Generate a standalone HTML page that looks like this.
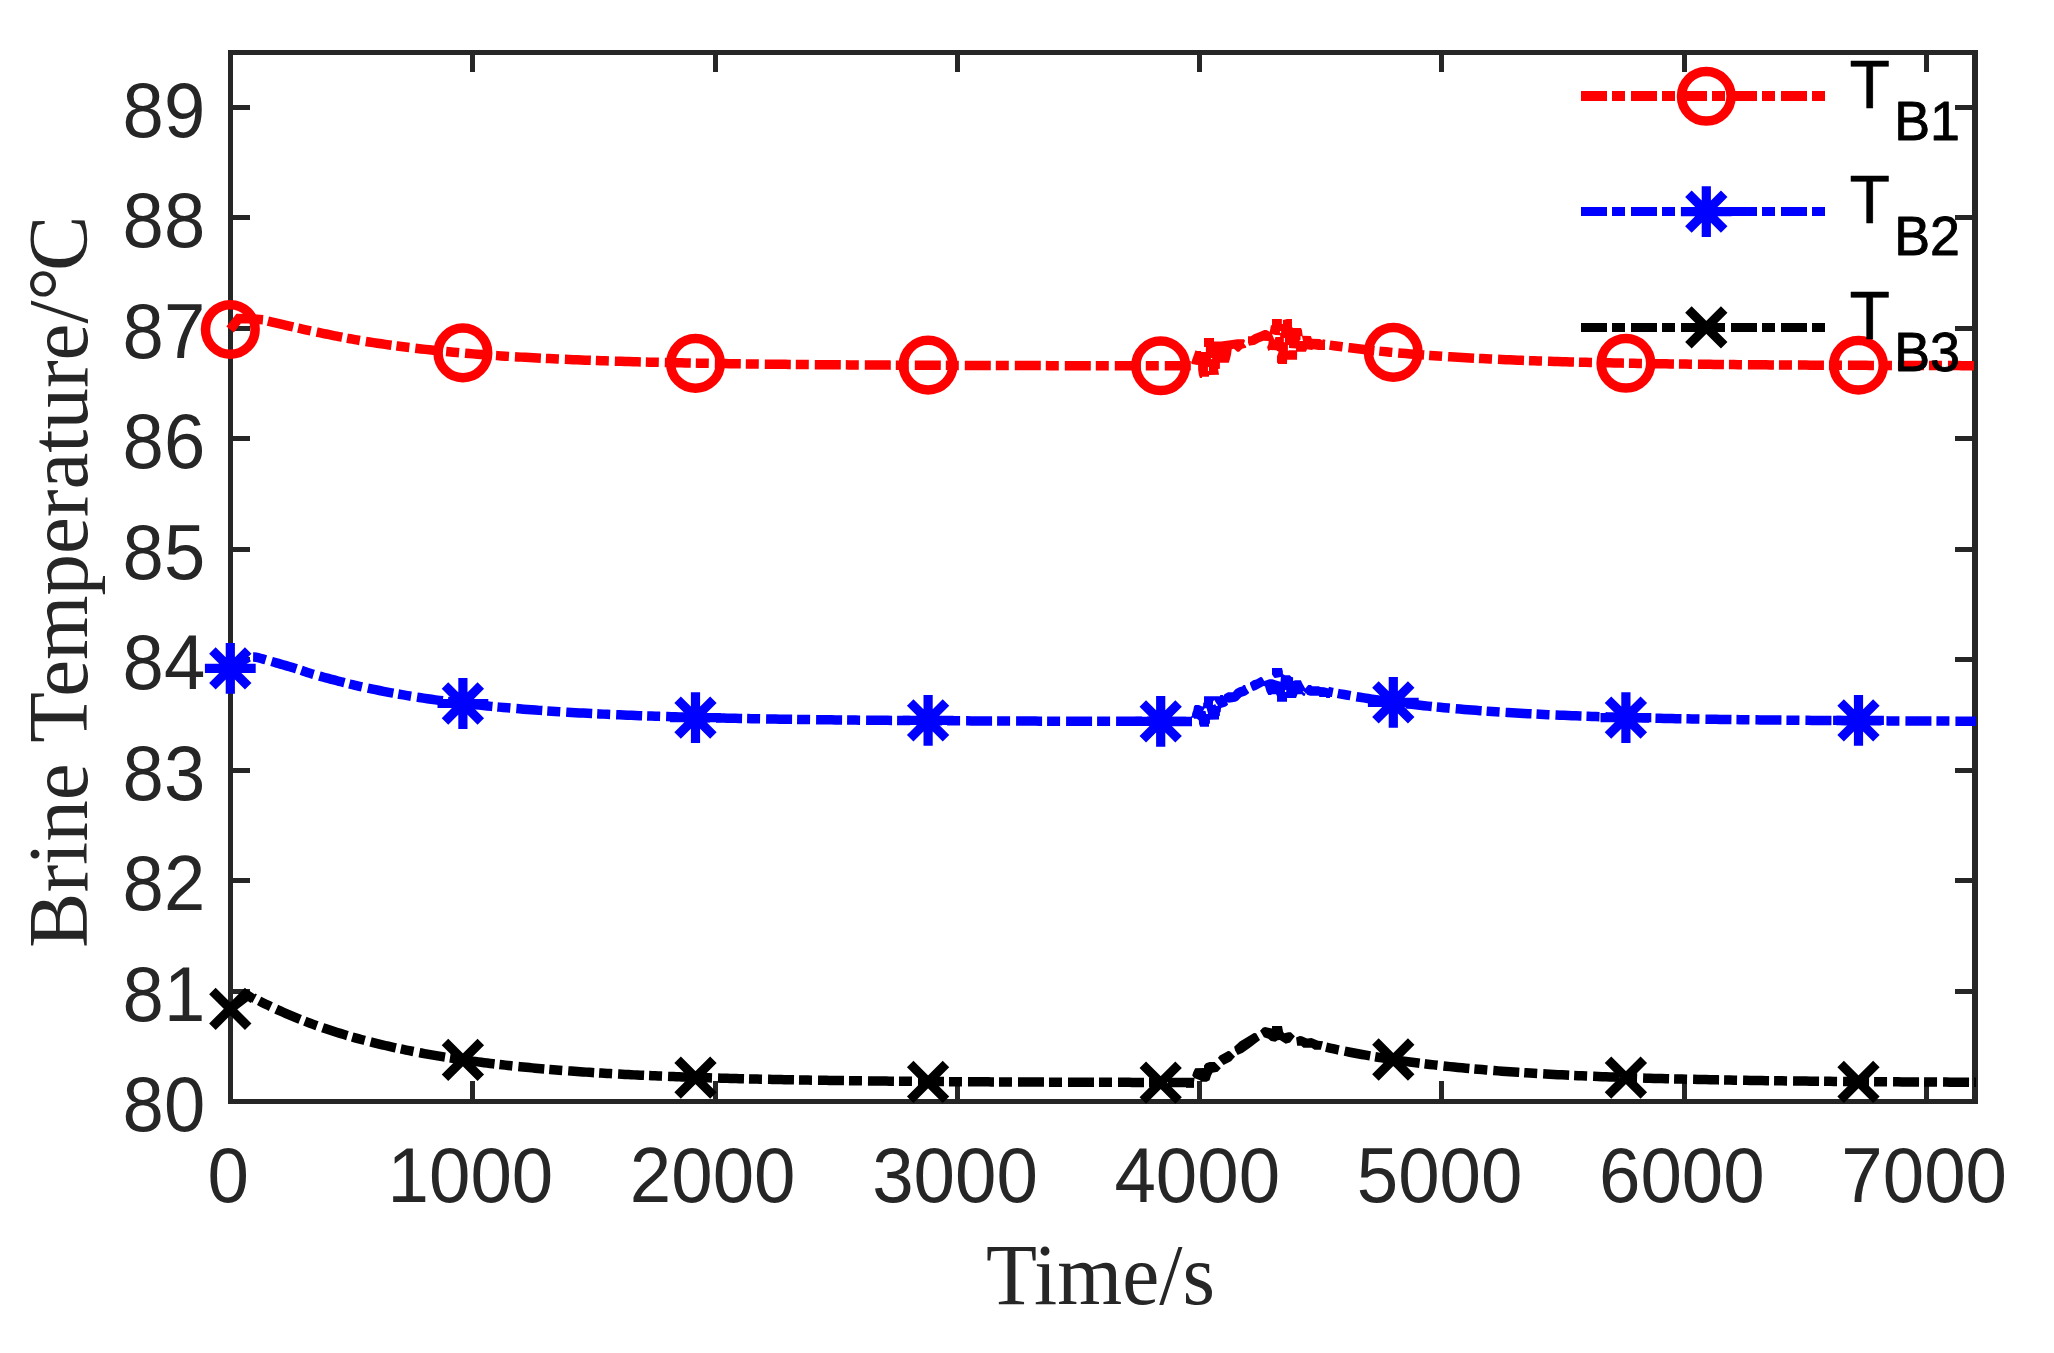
<!DOCTYPE html>
<html lang="en"><head><meta charset="utf-8"><title>Brine Temperature</title>
<style>html,body{margin:0;padding:0;background:#fff}svg{display:block}</style></head>
<body>
<svg width="2054" height="1353" viewBox="0 0 2054 1353">
<rect width="2054" height="1353" fill="#fff"/>
<g stroke="#262626" stroke-width="5" fill="none" shape-rendering="crispEdges">
<path d="M230.5 1101.5V52.5H1975.2V1101.5H230.5Z"/>
<path d="M1975 50V1104" stroke-width="6"/>
<path d="M230.5 1101.5v-20.3M230.5 52.5v19.3M472.79 1101.5v-20.3M472.79 52.5v19.3M715.08 1101.5v-20.3M715.08 52.5v19.3M957.37 1101.5v-20.3M957.37 52.5v19.3M1199.66 1101.5v-20.3M1199.66 52.5v19.3M1441.95 1101.5v-20.3M1441.95 52.5v19.3M1684.24 1101.5v-20.3M1684.24 52.5v19.3M1926.53 1101.5v-20.3M1926.53 52.5v19.3M230.5 1101.5h19.5M1975.2 1101.5h-20.2M230.5 991.06h19.5M1975.2 991.06h-20.2M230.5 880.62h19.5M1975.2 880.62h-20.2M230.5 770.18h19.5M1975.2 770.18h-20.2M230.5 659.74h19.5M1975.2 659.74h-20.2M230.5 549.3h19.5M1975.2 549.3h-20.2M230.5 438.86h19.5M1975.2 438.86h-20.2M230.5 328.42h19.5M1975.2 328.42h-20.2M230.5 217.98h19.5M1975.2 217.98h-20.2M230.5 107.54h19.5M1975.2 107.54h-20.2"/>
</g>
<g font-family="'Liberation Sans', Arial, Helvetica, sans-serif" fill="#262626">
<g text-anchor="end">
<text transform="translate(205.2 1131) scale(0.9900 1.0360)" font-size="75">80</text>
<text transform="translate(205.2 1020.56) scale(0.9900 1.0360)" font-size="75">81</text>
<text transform="translate(205.2 910.12) scale(0.9900 1.0360)" font-size="75">82</text>
<text transform="translate(205.2 799.68) scale(0.9900 1.0360)" font-size="75">83</text>
<text transform="translate(205.2 689.24) scale(0.9900 1.0360)" font-size="75">84</text>
<text transform="translate(205.2 578.8) scale(0.9900 1.0360)" font-size="75">85</text>
<text transform="translate(205.2 468.36) scale(0.9900 1.0360)" font-size="75">86</text>
<text transform="translate(205.2 357.92) scale(0.9900 1.0360)" font-size="75">87</text>
<text transform="translate(205.2 247.48) scale(0.9900 1.0360)" font-size="75">88</text>
<text transform="translate(205.2 137.04) scale(0.9900 1.0360)" font-size="75">89</text>
</g>
<g text-anchor="middle">
<text transform="translate(228.1 1202) scale(0.9930 1.0360)" font-size="75">0</text>
<text transform="translate(470.39 1202) scale(0.9930 1.0360)" font-size="75">1000</text>
<text transform="translate(712.68 1202) scale(0.9930 1.0360)" font-size="75">2000</text>
<text transform="translate(954.97 1202) scale(0.9930 1.0360)" font-size="75">3000</text>
<text transform="translate(1197.26 1202) scale(0.9930 1.0360)" font-size="75">4000</text>
<text transform="translate(1439.55 1202) scale(0.9930 1.0360)" font-size="75">5000</text>
<text transform="translate(1681.84 1202) scale(0.9930 1.0360)" font-size="75">6000</text>
<text transform="translate(1924.13 1202) scale(0.9930 1.0360)" font-size="75">7000</text>
</g>
</g>
<g font-family="'Liberation Serif', 'Times New Roman', Times, serif" fill="#262626">
<text transform="translate(1100.5 1304) scale(1.0060 1.0350)" font-size="83" text-anchor="middle">Time/s</text>
<g style="font-kerning:none">
<text transform="translate(87 947.9) rotate(-90) scale(1 1.012)" font-size="83" dx="0 0 0 0 0 0 0 -4.8 0 0 0 0 0 0 0 0 0 0 0 -3.7">Brine Temperature/°C</text>
</g>
</g>
<clipPath id="c"><rect x="190.5" y="0" width="1785.5" height="1353"/></clipPath>
<g clip-path="url(#c)" stroke-linecap="butt">
<path d="M230.1 329.5 L238.7 318.5 L251 318.7 L263 319.7" fill="none" stroke="#ff0000" stroke-width="9.5" stroke-linejoin="miter"/>
<path d="M267.55 321 L269.16 321.39 L271.09 321.84 L273.24 322.34 L275.51 322.86 L277.8 323.39 L280 323.9 L282.08 324.39 L284.1 324.86 L286.15 325.35 L288.28 325.85 L290.57 326.38 L293.1 326.95 L294.88 327.35 L296.69 327.76 L298.55 328.18 L300.48 328.61 L302.5 329.05 L304.64 329.52 L306.92 330.02 L309.37 330.54 L312 331.1 L313.71 331.46 L315.56 331.85 L317.51 332.25 L319.56 332.68 L321.67 333.12 L323.84 333.57 L326.04 334.02 L328.25 334.47 L330.45 334.92 L332.61 335.36 L334.73 335.79 L336.78 336.21 L338.74 336.6 L340.58 336.96 L342.3 337.3 L345.01 337.82 L347.65 338.31 L350.17 338.77 L352.56 339.19 L354.78 339.58 L356.79 339.92 L358.57 340.23 L360.08 340.49 L361.3 340.7 L365.3 341.36 L369.3 341.99 L373.3 342.62 L377.3 343.22 L381.3 343.81 L385.3 344.39 L389.3 344.95 L393.3 345.49 L397.3 346.02 L401.3 346.54 L405.3 347.05 L409.3 347.54 L413.3 348.01 L417.3 348.48 L421.3 348.93 L425.3 349.37 L429.3 349.8 L433.3 350.22 L437.3 350.63 L441.3 351.03 L445.3 351.42 L449.3 351.79 L453.3 352.16 L457.3 352.52 L461.3 352.87 L465.3 353.21 L469.3 353.54 L473.3 353.86 L477.3 354.17 L481.3 354.48 L485.3 354.77 L489.3 355.06 L493.3 355.35 L497.3 355.62 L501.3 355.89 L505.3 356.15 L509.3 356.4 L513.3 356.65 L517.3 356.89 L521.3 357.12 L525.3 357.35 L529.3 357.58 L533.3 357.79 L537.3 358 L541.3 358.21 L545.3 358.41 L549.3 358.6 L553.3 358.79 L557.3 358.98 L561.3 359.16 L565.3 359.33 L569.3 359.51 L573.3 359.67 L577.3 359.83 L581.3 359.99 L585.3 360.15 L589.3 360.3 L593.3 360.44 L597.3 360.58 L601.3 360.72 L605.3 360.86 L609.3 360.99 L613.3 361.12 L617.3 361.24 L621.3 361.36 L625.3 361.48 L629.3 361.59 L633.3 361.71 L637.3 361.82 L641.3 361.92 L645.3 362.03 L649.3 362.13 L653.3 362.22 L657.3 362.32 L661.3 362.41 L665.3 362.5 L669.3 362.59 L673.3 362.68 L677.3 362.76 L681.3 362.84 L685.3 362.92 L689.3 363 L693.3 363.08 L697.3 363.15 L701.3 363.22 L705.3 363.29 L709.3 363.36 L713.3 363.43 L717.3 363.49 L721.3 363.55 L725.3 363.61 L729.3 363.67 L733.3 363.73 L737.3 363.79 L741.3 363.84 L745.3 363.9 L749.3 363.95 L753.3 364 L757.3 364.05 L761.3 364.1 L765.3 364.14 L769.3 364.19 L773.3 364.23 L777.3 364.28 L781.3 364.32 L785.3 364.36 L789.3 364.4 L793.3 364.44 L797.3 364.48 L801.3 364.51 L805.3 364.55 L809.3 364.59 L813.3 364.62 L817.3 364.65 L821.3 364.69 L825.3 364.72 L829.3 364.75 L833.3 364.78 L837.3 364.81 L841.3 364.84 L845.3 364.86 L849.3 364.89 L853.3 364.92 L857.3 364.94 L861.3 364.97 L865.3 364.99 L869.3 365.02 L873.3 365.04 L877.3 365.06 L881.3 365.08 L885.3 365.1 L889.3 365.12 L893.3 365.14 L897.3 365.16 L901.3 365.18 L905.3 365.2 L909.3 365.22 L913.3 365.24 L917.3 365.26 L921.3 365.27 L925.3 365.29 L929.3 365.3 L933.3 365.32 L937.3 365.33 L941.3 365.35 L945.3 365.36 L949.3 365.38 L953.3 365.39 L957.3 365.4 L961.3 365.42 L965.3 365.43 L969.3 365.44 L973.3 365.45 L977.3 365.47 L981.3 365.48 L985.3 365.49 L989.3 365.5 L993.3 365.51 L997.3 365.52 L1001.3 365.53 L1005.3 365.54 L1009.3 365.55 L1013.3 365.56 L1017.3 365.57 L1021.3 365.58 L1025.3 365.58 L1029.3 365.59 L1033.3 365.6 L1037.3 365.61 L1041.3 365.62 L1045.3 365.62 L1049.3 365.63 L1053.3 365.64 L1057.3 365.64 L1061.3 365.65 L1065.3 365.66 L1069.3 365.66 L1073.3 365.67 L1077.3 365.68 L1081.3 365.68 L1085.3 365.69 L1089.3 365.69 L1093.3 365.7 L1097.3 365.7 L1101.3 365.71 L1105.3 365.71 L1109.3 365.72 L1113.3 365.72 L1117.3 365.73 L1121.3 365.73 L1125.3 365.74 L1129.3 365.74 L1133.3 365.74 L1137.3 365.75 L1141.3 365.75 L1145.3 365.76 L1149.3 365.76 L1153.3 365.76 L1157.3 365.77 L1161.3 365.77 L1165.3 365.77 L1169.3 365.78 L1173.3 365.78 L1177.3 365.78 L1181.3 365.79 L1185.3 365.79 L1189.3 365.79 L1192 365.79" fill="none" stroke="#ff0000" stroke-width="9.5" stroke-dasharray="26 5 13 6" stroke-dashoffset="49.65"/>
<path d="M1322 344 L1326 344.59 L1330 345.17 L1334 345.73 L1338 346.28 L1342 346.81 L1346 347.32 L1350 347.83 L1354 348.31 L1358 348.79 L1362 349.25 L1366 349.7 L1370 350.14 L1374 350.57 L1378 350.98 L1382 351.39 L1386 351.78 L1390 352.16 L1394 352.53 L1398 352.89 L1402 353.25 L1406 353.59 L1410 353.92 L1414 354.24 L1418 354.56 L1422 354.87 L1426 355.17 L1430 355.46 L1434 355.74 L1438 356.01 L1442 356.28 L1446 356.54 L1450 356.79 L1454 357.04 L1458 357.28 L1462 357.51 L1466 357.74 L1470 357.96 L1474 358.18 L1478 358.38 L1482 358.59 L1486 358.79 L1490 358.98 L1494 359.17 L1498 359.35 L1502 359.52 L1506 359.7 L1510 359.87 L1514 360.03 L1518 360.19 L1522 360.34 L1526 360.49 L1530 360.64 L1534 360.78 L1538 360.92 L1542 361.05 L1546 361.18 L1550 361.31 L1554 361.44 L1558 361.56 L1562 361.67 L1566 361.79 L1570 361.9 L1574 362.01 L1578 362.11 L1582 362.22 L1586 362.32 L1590 362.41 L1594 362.51 L1598 362.6 L1602 362.69 L1606 362.78 L1610 362.86 L1614 362.94 L1618 363.02 L1622 363.1 L1626 363.18 L1630 363.25 L1634 363.32 L1638 363.39 L1642 363.46 L1646 363.52 L1650 363.59 L1654 363.65 L1658 363.71 L1662 363.77 L1666 363.83 L1670 363.89 L1674 363.94 L1678 363.99 L1682 364.04 L1686 364.09 L1690 364.14 L1694 364.19 L1698 364.24 L1702 364.28 L1706 364.33 L1710 364.37 L1714 364.41 L1718 364.45 L1722 364.49 L1726 364.53 L1730 364.56 L1734 364.6 L1738 364.64 L1742 364.67 L1746 364.7 L1750 364.74 L1754 364.77 L1758 364.8 L1762 364.83 L1766 364.86 L1770 364.88 L1774 364.91 L1778 364.94 L1782 364.97 L1786 364.99 L1790 365.01 L1794 365.04 L1798 365.06 L1802 365.08 L1806 365.11 L1810 365.13 L1814 365.15 L1818 365.17 L1822 365.19 L1826 365.21 L1830 365.23 L1834 365.25 L1838 365.26 L1842 365.28 L1846 365.3 L1850 365.31 L1854 365.33 L1858 365.34 L1862 365.36 L1866 365.37 L1870 365.39 L1874 365.4 L1878 365.42 L1882 365.43 L1886 365.44 L1890 365.45 L1894 365.47 L1898 365.48 L1902 365.49 L1906 365.5 L1910 365.51 L1914 365.52 L1918 365.53 L1922 365.54 L1926 365.55 L1930 365.56 L1934 365.57 L1938 365.58 L1942 365.59 L1946 365.6 L1950 365.6 L1954 365.61 L1958 365.62 L1962 365.63 L1966 365.64 L1970 365.64 L1974 365.65 L1976 365.65" fill="none" stroke="#ff0000" stroke-width="9.5" stroke-dasharray="26 5 13 6" stroke-dashoffset="23.23"/>
<polygon points="1191.09,362.82 1195.52,350.26 1197,351 1201.06,351 1201.06,352.11 1205.87,352.11 1205.87,346.93 1204.02,346.93 1204.02,338.06 1214,338.06 1214,341.39 1221.02,341.39 1230.26,340.28 1237.28,339.17 1243.93,339.17 1245.04,340.65 1243.93,343.61 1246.15,346.56 1246.15,347.67 1242.08,348.78 1239.13,351.74 1237.28,351.74 1233.95,348.78 1231.74,349.15 1231,354.69 1229.89,359.13 1228.78,362.82 1219.91,362.82 1219.91,368.74 1218.06,369.11 1219.02,374.65 1209.19,375.02 1208.82,376.87 1202.17,376.87 1201.8,377.97 1199.96,377.97 1198.85,374.65 1198.11,369.48 1198.11,365.04 1195.89,364.67 1191.83,363.93" fill="#ff0000"/>
<polygon points="1248,336.22 1250.95,336.22 1253.91,334.37 1259.08,332.15 1264.26,329.93 1266.47,329.93 1269.8,331.78 1270.91,325.13 1272.02,325.13 1272.02,319.07 1281.85,319.07 1281.85,324.02 1282.96,324.02 1282.96,320.1 1287.17,319.07 1291.97,319.07 1291.97,326.98 1293.08,327.94 1300.99,327.94 1301.95,329.93 1302.69,335.85 1310.82,335.99 1311.93,338.8 1320.06,338.95 1321.91,340.28 1325.01,341.02 1325.01,349.89 1318.21,349.89 1313.78,349.15 1311.56,349.89 1307.12,349.15 1305.87,351.74 1297.15,351.74 1297,359.87 1287.17,359.87 1286.95,363.93 1278.3,363.93 1276.97,362.45 1276.97,356.17 1278.67,351.74 1276.08,350.26 1270.17,349.89 1268.32,351 1267.07,347.3 1268.32,344.35 1268.69,341.02 1263.52,340.65 1259.45,342.13 1255.02,344.72 1249.11,345.82 1248,342.87" fill="#ff0000"/>
<polygon points="1207.94,366.89 1208.97,366.89 1208.97,370.95 1207.94,370.95" fill="#fff"/>
<polygon points="1210.89,358.02 1212.15,358.02 1212.15,359.13 1210.89,359.13" fill="#fff"/>
<polygon points="1272.02,334 1275.34,334.89 1280.15,335.33 1280.15,336.95 1275.49,336.95 1274.46,339.91 1273.27,336.95" fill="#fff"/>
<polygon points="1283.84,338.06 1284.95,338.06 1284.95,342.13 1283.84,342.13" fill="#fff"/>
<polygon points="1287.91,345.08 1289.02,345.08 1289.02,348.04 1296.04,348.41 1296.04,350.26 1289.02,350.26 1287.91,351" fill="#fff"/>
<polygon points="1300.47,336.36 1301.95,336.22 1303.06,341.02 1299.14,341.02 1300.62,339.54" fill="#fff"/>
<polygon points="1279.93,331.04 1281.11,331.04 1281.11,332.89 1279.93,332.89" fill="#fff"/>
<circle cx="230.3" cy="329.45" r="24.8" fill="none" stroke="#ff0000" stroke-width="9.5"/>
<circle cx="462.9" cy="352.9" r="24.8" fill="none" stroke="#ff0000" stroke-width="9.5"/>
<circle cx="695.5" cy="363.4" r="24.8" fill="none" stroke="#ff0000" stroke-width="9.5"/>
<circle cx="928.1" cy="365.1" r="24.8" fill="none" stroke="#ff0000" stroke-width="9.5"/>
<circle cx="1160.7" cy="365.8" r="24.8" fill="none" stroke="#ff0000" stroke-width="9.5"/>
<circle cx="1393.3" cy="352.4" r="24.8" fill="none" stroke="#ff0000" stroke-width="9.5"/>
<circle cx="1625.9" cy="363.3" r="24.8" fill="none" stroke="#ff0000" stroke-width="9.5"/>
<circle cx="1858.5" cy="365.2" r="24.8" fill="none" stroke="#ff0000" stroke-width="9.5"/>
<path d="M230.15 668.4 L248.5 657.3" fill="none" stroke="#0000ff" stroke-width="9.5" stroke-linejoin="miter"/>
<path d="M251.98 657.08 L253.96 657.11 L256 657.3 L258.06 657.69 L260.17 658.25 L262.5 658.9 L264.1 659.33 L265.6 659.74 L267.68 660.34 L271 661.3 L272.52 661.74 L274.28 662.25 L276.23 662.81 L278.34 663.42 L280.56 664.07 L282.86 664.73 L285.18 665.41 L287.5 666.09 L289.78 666.76 L291.96 667.41 L294.01 668.03 L295.9 668.6 L298.14 669.3 L300.13 669.96 L301.96 670.59 L303.7 671.2 L305.44 671.8 L307.25 672.42 L309.21 673.07 L311.4 673.76 L313.9 674.5 L315.6 674.99 L317.46 675.51 L319.46 676.06 L321.57 676.64 L323.76 677.23 L326.01 677.84 L328.28 678.44 L330.55 679.04 L332.8 679.64 L334.98 680.21 L337.08 680.76 L339.07 681.28 L340.93 681.77 L342.61 682.21 L344.1 682.6 L347.75 683.54 L350.52 684.24 L352.6 684.74 L354.17 685.1 L355.4 685.4 L359.4 686.31 L363.4 687.2 L367.4 688.06 L371.4 688.9 L375.4 689.72 L379.4 690.52 L383.4 691.3 L387.4 692.07 L391.4 692.81 L395.4 693.53 L399.4 694.24 L403.4 694.92 L407.4 695.59 L411.4 696.25 L415.4 696.88 L419.4 697.5 L423.4 698.11 L427.4 698.7 L431.4 699.27 L435.4 699.84 L439.4 700.38 L443.4 700.91 L447.4 701.43 L451.4 701.94 L455.4 702.43 L459.4 702.92 L463.4 703.39 L467.4 703.84 L471.4 704.29 L475.4 704.72 L479.4 705.15 L483.4 705.56 L487.4 705.96 L491.4 706.36 L495.4 706.74 L499.4 707.11 L503.4 707.48 L507.4 707.83 L511.4 708.18 L515.4 708.51 L519.4 708.84 L523.4 709.16 L527.4 709.48 L531.4 709.78 L535.4 710.08 L539.4 710.37 L543.4 710.65 L547.4 710.92 L551.4 711.19 L555.4 711.45 L559.4 711.71 L563.4 711.96 L567.4 712.2 L571.4 712.43 L575.4 712.66 L579.4 712.89 L583.4 713.11 L587.4 713.32 L591.4 713.53 L595.4 713.73 L599.4 713.93 L603.4 714.12 L607.4 714.31 L611.4 714.49 L615.4 714.67 L619.4 714.85 L623.4 715.02 L627.4 715.18 L631.4 715.34 L635.4 715.5 L639.4 715.65 L643.4 715.8 L647.4 715.95 L651.4 716.09 L655.4 716.23 L659.4 716.36 L663.4 716.49 L667.4 716.62 L671.4 716.75 L675.4 716.87 L679.4 716.99 L683.4 717.1 L687.4 717.22 L691.4 717.33 L695.4 717.43 L699.4 717.54 L703.4 717.64 L707.4 717.74 L711.4 717.84 L715.4 717.93 L719.4 718.02 L723.4 718.11 L727.4 718.2 L731.4 718.29 L735.4 718.37 L739.4 718.45 L743.4 718.53 L747.4 718.61 L751.4 718.68 L755.4 718.76 L759.4 718.83 L763.4 718.9 L767.4 718.96 L771.4 719.03 L775.4 719.1 L779.4 719.16 L783.4 719.22 L787.4 719.28 L791.4 719.34 L795.4 719.39 L799.4 719.45 L803.4 719.5 L807.4 719.56 L811.4 719.61 L815.4 719.66 L819.4 719.71 L823.4 719.75 L827.4 719.8 L831.4 719.85 L835.4 719.89 L839.4 719.93 L843.4 719.97 L847.4 720.02 L851.4 720.06 L855.4 720.09 L859.4 720.13 L863.4 720.17 L867.4 720.2 L871.4 720.24 L875.4 720.27 L879.4 720.31 L883.4 720.34 L887.4 720.37 L891.4 720.4 L895.4 720.43 L899.4 720.46 L903.4 720.49 L907.4 720.52 L911.4 720.55 L915.4 720.57 L919.4 720.6 L923.4 720.62 L927.4 720.65 L931.4 720.67 L935.4 720.69 L939.4 720.72 L943.4 720.74 L947.4 720.76 L951.4 720.78 L955.4 720.8 L959.4 720.82 L963.4 720.84 L967.4 720.86 L971.4 720.88 L975.4 720.9 L979.4 720.92 L983.4 720.93 L987.4 720.95 L991.4 720.97 L995.4 720.98 L999.4 721 L1003.4 721.01 L1007.4 721.03 L1011.4 721.04 L1015.4 721.06 L1019.4 721.07 L1023.4 721.08 L1027.4 721.1 L1031.4 721.11 L1035.4 721.12 L1039.4 721.13 L1043.4 721.14 L1047.4 721.16 L1051.4 721.17 L1055.4 721.18 L1059.4 721.19 L1063.4 721.2 L1067.4 721.21 L1071.4 721.22 L1075.4 721.23 L1079.4 721.24 L1083.4 721.25 L1087.4 721.26 L1091.4 721.26 L1095.4 721.27 L1099.4 721.28 L1103.4 721.29 L1107.4 721.3 L1111.4 721.3 L1115.4 721.31 L1119.4 721.32 L1123.4 721.33 L1127.4 721.33 L1131.4 721.34 L1135.4 721.35 L1139.4 721.35 L1143.4 721.36 L1147.4 721.36 L1151.4 721.37 L1155.4 721.38 L1159.4 721.38 L1163.4 721.39 L1167.4 721.39 L1171.4 721.4 L1175.4 721.4 L1179.4 721.41 L1183.4 721.41 L1187.4 721.42 L1191.4 721.42 L1192 721.42" fill="none" stroke="#0000ff" stroke-width="9.5" stroke-dasharray="26 5 13 6" stroke-dashoffset="29.88"/>
<path d="M1328 691.5 L1332 692.29 L1336 693.06 L1340 693.81 L1344 694.54 L1348 695.25 L1352 695.94 L1356 696.62 L1360 697.28 L1364 697.91 L1368 698.54 L1372 699.14 L1376 699.73 L1380 700.31 L1384 700.87 L1388 701.41 L1392 701.94 L1396 702.46 L1400 702.96 L1404 703.45 L1408 703.93 L1412 704.39 L1416 704.84 L1420 705.28 L1424 705.71 L1428 706.13 L1432 706.54 L1436 706.93 L1440 707.32 L1444 707.69 L1448 708.06 L1452 708.42 L1456 708.76 L1460 709.1 L1464 709.43 L1468 709.75 L1472 710.06 L1476 710.36 L1480 710.66 L1484 710.94 L1488 711.22 L1492 711.5 L1496 711.76 L1500 712.02 L1504 712.27 L1508 712.52 L1512 712.76 L1516 712.99 L1520 713.22 L1524 713.44 L1528 713.65 L1532 713.86 L1536 714.06 L1540 714.26 L1544 714.45 L1548 714.64 L1552 714.82 L1556 715 L1560 715.18 L1564 715.34 L1568 715.51 L1572 715.67 L1576 715.82 L1580 715.98 L1584 716.12 L1588 716.27 L1592 716.41 L1596 716.54 L1600 716.68 L1604 716.81 L1608 716.93 L1612 717.06 L1616 717.17 L1620 717.29 L1624 717.4 L1628 717.51 L1632 717.62 L1636 717.73 L1640 717.83 L1644 717.93 L1648 718.02 L1652 718.12 L1656 718.21 L1660 718.3 L1664 718.39 L1668 718.47 L1672 718.55 L1676 718.63 L1680 718.71 L1684 718.79 L1688 718.86 L1692 718.93 L1696 719 L1700 719.07 L1704 719.14 L1708 719.2 L1712 719.26 L1716 719.33 L1720 719.39 L1724 719.44 L1728 719.5 L1732 719.56 L1736 719.61 L1740 719.66 L1744 719.71 L1748 719.76 L1752 719.81 L1756 719.86 L1760 719.9 L1764 719.95 L1768 719.99 L1772 720.03 L1776 720.07 L1780 720.11 L1784 720.15 L1788 720.19 L1792 720.23 L1796 720.26 L1800 720.3 L1804 720.33 L1808 720.37 L1812 720.4 L1816 720.43 L1820 720.46 L1824 720.49 L1828 720.52 L1832 720.55 L1836 720.58 L1840 720.6 L1844 720.63 L1848 720.66 L1852 720.68 L1856 720.7 L1860 720.73 L1864 720.75 L1868 720.77 L1872 720.79 L1876 720.82 L1880 720.84 L1884 720.86 L1888 720.88 L1892 720.9 L1896 720.91 L1900 720.93 L1904 720.95 L1908 720.97 L1912 720.98 L1916 721 L1920 721.02 L1924 721.03 L1928 721.05 L1932 721.06 L1936 721.07 L1940 721.09 L1944 721.1 L1948 721.11 L1952 721.13 L1956 721.14 L1960 721.15 L1964 721.16 L1968 721.18 L1972 721.19 L1976 721.2" fill="none" stroke="#0000ff" stroke-width="9.5" stroke-dasharray="26 5 13 6" stroke-dashoffset="21.07"/>
<polygon points="1191.09,716.15 1191.83,716.15 1192.2,713.19 1193.3,710.24 1194.04,706.17 1195.15,705.06 1198.85,705.06 1202.17,706.54 1203.06,706.17 1203.28,702.85 1204.02,702.48 1204.02,696.19 1219.91,696.19 1220.28,695.08 1222.87,695.08 1223.61,696.19 1224.35,694.35 1228.04,692.13 1232.85,692.13 1235.43,689.17 1239.13,687.32 1242.08,686.59 1243.56,684.96 1245.04,685.11 1246.52,688.43 1249.11,692.5 1248.74,693.61 1245.78,695.45 1241.35,696.93 1237.65,700.63 1235.43,701.74 1228.78,702.85 1227.3,702.11 1228.04,704.69 1225.82,706.54 1221.02,708.02 1220.65,712.08 1219.91,712.45 1219.91,715.78 1219.02,716.15 1219.02,719.62 1209.93,719.84 1209.93,723.54 1208.97,723.91 1208.97,726.87 1200.1,726.87 1199.07,723.91 1198.85,720.58 1197,718.74 1194.04,718.74 1193.67,717.85 1191.83,717.85 1191.83,725.76 1191.09,725.76" fill="#0000ff"/>
<polygon points="1249.99,682.52 1253.17,680.3 1256.13,679.56 1260.56,676.98 1262.04,677.35 1264.26,681.04 1267.21,679.93 1269.43,679.19 1272.39,679.19 1275.34,680.3 1280.52,681.78 1280.89,676.98 1275.34,677.94 1274.24,677.72 1272.02,674.39 1272.02,667.96 1282,667.96 1282.88,671.43 1282.88,674.02 1284.95,675.13 1289.76,675.13 1291.6,676.98 1293.08,677.35 1293.08,681.04 1295.3,680.16 1300.84,680.16 1302.69,684 1305.28,688.43 1308.23,685.11 1310.82,685.11 1312.3,686.22 1318.95,686.22 1320.06,686.95 1324.12,687.32 1327.82,688.29 1330.04,688.43 1330.04,697.89 1326.34,697.89 1325.97,696.93 1319.32,696.93 1318.95,695.82 1310.08,695.82 1307.12,694.72 1305.65,692.5 1304.91,695.82 1303.06,695.82 1301.95,694.35 1297.52,694.35 1296.04,697.89 1287.02,697.89 1287.02,701.74 1277.04,701.74 1277.04,696.19 1276.08,694.35 1271.65,694.35 1271.28,694.94 1268.32,694.94 1266.47,691.39 1265,686.22 1263.52,685.99 1259.82,688.06 1256.13,689.91 1253.17,691.02 1252.06,689.54 1249.99,684.37" fill="#0000ff"/>
<polygon points="1214.37,700.11 1216.22,703.22 1218.06,705.58 1216.22,705.88 1215.11,703.95 1213.63,705.06 1212.89,704.69 1213.11,701.37" fill="#fff"/>
<polygon points="1204.76,708.17 1206.61,708.17 1208.09,713.93 1206.24,713.93 1205.5,710.98 1203.06,710.75" fill="#fff"/>
<polygon points="1284.95,689.91 1286.21,689.91 1286.21,691.98 1284.95,691.98" fill="#fff"/>
<polygon points="1303.28,691.02 1304.91,692.5 1305.06,693.61 1302.69,691.76" fill="#fff"/>
<path d="M212.4 650.5L248.2 686.3M212.4 686.3L248.2 650.5M204.9 668.4L255.7 668.4M230.3 643L230.3 693.8" fill="none" stroke="#0000ff" stroke-width="9.2"/>
<path d="M445 685.6L480.8 721.4M445 721.4L480.8 685.6M437.5 703.5L488.3 703.5M462.9 678.1L462.9 728.9" fill="none" stroke="#0000ff" stroke-width="9.2"/>
<path d="M677.6 699.65L713.4 735.45M677.6 735.45L713.4 699.65M670.1 717.55L720.9 717.55M695.5 692.15L695.5 742.95" fill="none" stroke="#0000ff" stroke-width="9.2"/>
<path d="M910.2 702.5L946 738.3M910.2 738.3L946 702.5M902.7 720.4L953.5 720.4M928.1 695L928.1 745.8" fill="none" stroke="#0000ff" stroke-width="9.2"/>
<path d="M1142.8 703.5L1178.6 739.3M1142.8 739.3L1178.6 703.5M1135.3 721.4L1186.1 721.4M1160.7 696L1160.7 746.8" fill="none" stroke="#0000ff" stroke-width="9.2"/>
<path d="M1375.4 684.5L1411.2 720.3M1375.4 720.3L1411.2 684.5M1367.9 702.4L1418.7 702.4M1393.3 677L1393.3 727.8" fill="none" stroke="#0000ff" stroke-width="9.2"/>
<path d="M1608 699.7L1643.8 735.5M1608 735.5L1643.8 699.7M1600.5 717.6L1651.3 717.6M1625.9 692.2L1625.9 743" fill="none" stroke="#0000ff" stroke-width="9.2"/>
<path d="M1840.6 702.4L1876.4 738.2M1840.6 738.2L1876.4 702.4M1833.1 720.3L1883.9 720.3M1858.5 694.9L1858.5 745.7" fill="none" stroke="#0000ff" stroke-width="9.2"/>
<path d="M230.3 1008.8 L247.7 995.4 L253.2 999" fill="none" stroke="#000000" stroke-width="9.5" stroke-linejoin="miter"/>
<path d="M253.2 997.74 L256.2 999.32 L259.2 1000.87 L262.2 1002.39 L265.2 1003.88 L268.2 1005.35 L271.2 1006.79 L274.2 1008.2 L277.2 1009.58 L280.2 1010.94 L283.2 1012.28 L286.2 1013.59 L289.2 1014.87 L292.2 1016.13 L295.2 1017.37 L298.2 1018.58 L301.2 1019.78 L304.2 1020.95 L307.2 1022.09 L310.2 1023.22 L313.2 1024.33 L316.2 1025.41 L319.2 1026.48 L322.2 1027.52 L325.2 1028.55 L328.2 1029.56 L331.2 1030.54 L334.2 1031.51 L337.2 1032.47 L340.2 1033.4 L343.2 1034.32 L346.2 1035.22 L349.2 1036.1 L352.2 1036.97 L355.2 1037.82 L358.2 1038.65 L361.2 1039.47 L364.2 1040.27 L367.2 1041.06 L370.2 1041.84 L373.2 1042.6 L376.2 1043.34 L379.2 1044.08 L382.2 1044.79 L385.2 1045.5 L388.2 1046.19 L391.2 1046.87 L394.2 1047.54 L397.2 1048.19 L400.2 1048.83 L403.2 1049.46 L406.2 1050.08 L409.2 1050.69 L412.2 1051.28 L415.2 1051.87 L418.2 1052.44 L421.2 1053 L424.2 1053.56 L427.2 1054.1 L430.2 1054.63 L433.2 1055.15 L436.2 1055.66 L439.2 1056.17 L442.2 1056.66 L445.2 1057.14 L448.2 1057.62 L451.2 1058.09 L454.2 1058.54 L457.2 1058.99 L460.2 1059.44 L463.2 1059.87 L466.2 1060.29 L469.2 1060.71 L472.2 1061.12 L475.2 1061.52 L478.2 1061.91 L481.2 1062.3 L484.2 1062.68 L487.2 1063.05 L490.2 1063.42 L493.2 1063.78 L496.2 1064.13 L499.2 1064.48 L502.2 1064.81 L505.2 1065.15 L508.2 1065.47 L511.2 1065.8 L514.2 1066.11 L517.2 1066.42 L520.2 1066.72 L523.2 1067.02 L526.2 1067.31 L529.2 1067.6 L532.2 1067.88 L535.2 1068.15 L538.2 1068.43 L541.2 1068.69 L544.2 1068.95 L547.2 1069.21 L550.2 1069.46 L553.2 1069.71 L556.2 1069.95 L559.2 1070.19 L562.2 1070.42 L565.2 1070.65 L568.2 1070.87 L571.2 1071.09 L574.2 1071.31 L577.2 1071.52 L580.2 1071.73 L583.2 1071.93 L586.2 1072.13 L589.2 1072.33 L592.2 1072.52 L595.2 1072.71 L598.2 1072.9 L601.2 1073.08 L604.2 1073.26 L607.2 1073.44 L610.2 1073.61 L613.2 1073.78 L616.2 1073.95 L619.2 1074.11 L622.2 1074.27 L625.2 1074.43 L628.2 1074.58 L631.2 1074.73 L634.2 1074.88 L637.2 1075.03 L640.2 1075.17 L643.2 1075.31 L646.2 1075.45 L649.2 1075.58 L652.2 1075.72 L655.2 1075.85 L658.2 1075.97 L661.2 1076.1 L664.2 1076.22 L667.2 1076.34 L670.2 1076.46 L673.2 1076.58 L676.2 1076.69 L679.2 1076.8 L682.2 1076.91 L685.2 1077.02 L688.2 1077.13 L691.2 1077.23 L694.2 1077.33 L697.2 1077.43 L700.2 1077.53 L703.2 1077.63 L706.2 1077.72 L709.2 1077.82 L712.2 1077.91 L715.2 1078 L718.2 1078.09 L721.2 1078.17 L724.2 1078.26 L727.2 1078.34 L730.2 1078.42 L733.2 1078.5 L736.2 1078.58 L739.2 1078.66 L742.2 1078.73 L745.2 1078.81 L748.2 1078.88 L751.2 1078.95 L754.2 1079.02 L757.2 1079.09 L760.2 1079.16 L763.2 1079.22 L766.2 1079.29 L769.2 1079.35 L772.2 1079.42 L775.2 1079.48 L778.2 1079.54 L781.2 1079.6 L784.2 1079.65 L787.2 1079.71 L790.2 1079.77 L793.2 1079.82 L796.2 1079.88 L799.2 1079.93 L802.2 1079.98 L805.2 1080.03 L808.2 1080.08 L811.2 1080.13 L814.2 1080.18 L817.2 1080.23 L820.2 1080.27 L823.2 1080.32 L826.2 1080.36 L829.2 1080.41 L832.2 1080.45 L835.2 1080.49 L838.2 1080.53 L841.2 1080.58 L844.2 1080.62 L847.2 1080.65 L850.2 1080.69 L853.2 1080.73 L856.2 1080.77 L859.2 1080.8 L862.2 1080.84 L865.2 1080.87 L868.2 1080.91 L871.2 1080.94 L874.2 1080.98 L877.2 1081.01 L880.2 1081.04 L883.2 1081.07 L886.2 1081.1 L889.2 1081.13 L892.2 1081.16 L895.2 1081.19 L898.2 1081.22 L901.2 1081.25 L904.2 1081.28 L907.2 1081.3 L910.2 1081.33 L913.2 1081.35 L916.2 1081.38 L919.2 1081.41 L922.2 1081.43 L925.2 1081.45 L928.2 1081.48 L931.2 1081.5 L934.2 1081.52 L937.2 1081.55 L940.2 1081.57 L943.2 1081.59 L946.2 1081.61 L949.2 1081.63 L952.2 1081.65 L955.2 1081.67 L958.2 1081.69 L961.2 1081.71 L964.2 1081.73 L967.2 1081.75 L970.2 1081.77 L973.2 1081.78 L976.2 1081.8 L979.2 1081.82 L982.2 1081.83 L985.2 1081.85 L988.2 1081.87 L991.2 1081.88 L994.2 1081.9 L997.2 1081.91 L1000.2 1081.93 L1003.2 1081.94 L1006.2 1081.96 L1009.2 1081.97 L1012.2 1081.99 L1015.2 1082 L1018.2 1082.01 L1021.2 1082.03 L1024.2 1082.04 L1027.2 1082.05 L1030.2 1082.07 L1033.2 1082.08 L1036.2 1082.09 L1039.2 1082.1 L1042.2 1082.11 L1045.2 1082.12 L1048.2 1082.14 L1051.2 1082.15 L1054.2 1082.16 L1057.2 1082.17 L1060.2 1082.18 L1063.2 1082.19 L1066.2 1082.2 L1069.2 1082.21 L1072.2 1082.22 L1075.2 1082.23 L1078.2 1082.24 L1081.2 1082.25 L1084.2 1082.25 L1087.2 1082.26 L1090.2 1082.27 L1093.2 1082.28 L1096.2 1082.29 L1099.2 1082.3 L1102.2 1082.3 L1105.2 1082.31 L1108.2 1082.32 L1111.2 1082.33 L1114.2 1082.34 L1117.2 1082.34 L1120.2 1082.35 L1123.2 1082.36 L1126.2 1082.36 L1129.2 1082.37 L1132.2 1082.38 L1135.2 1082.38 L1138.2 1082.39 L1141.2 1082.4 L1144.2 1082.4 L1147.2 1082.41 L1150.2 1082.41 L1153.2 1082.42 L1156.2 1082.43 L1159.2 1082.43 L1162.2 1082.44 L1165.2 1082.44 L1168.2 1082.45 L1171.2 1082.45 L1174.2 1082.46 L1177.2 1082.46 L1180.2 1082.47 L1183.2 1082.47 L1186.2 1082.48 L1189.2 1082.48 L1192.2 1082.49 L1194 1082.73" fill="none" stroke="#000000" stroke-width="9.5" stroke-dasharray="26 5 13 6" stroke-dashoffset="24.29"/>
<path d="M1326 1047.2 L1330 1048.09 L1334 1048.97 L1338 1049.82 L1342 1050.64 L1346 1051.45 L1350 1052.24 L1354 1053.01 L1358 1053.76 L1362 1054.48 L1366 1055.2 L1370 1055.89 L1374 1056.57 L1378 1057.22 L1382 1057.87 L1386 1058.49 L1390 1059.1 L1394 1059.7 L1398 1060.28 L1402 1060.84 L1406 1061.4 L1410 1061.93 L1414 1062.46 L1418 1062.97 L1422 1063.47 L1426 1063.95 L1430 1064.43 L1434 1064.89 L1438 1065.34 L1442 1065.78 L1446 1066.2 L1450 1066.62 L1454 1067.03 L1458 1067.42 L1462 1067.81 L1466 1068.19 L1470 1068.55 L1474 1068.91 L1478 1069.26 L1482 1069.6 L1486 1069.93 L1490 1070.25 L1494 1070.57 L1498 1070.88 L1502 1071.18 L1506 1071.47 L1510 1071.75 L1514 1072.03 L1518 1072.3 L1522 1072.56 L1526 1072.82 L1530 1073.07 L1534 1073.32 L1538 1073.55 L1542 1073.79 L1546 1074.01 L1550 1074.23 L1554 1074.45 L1558 1074.66 L1562 1074.86 L1566 1075.06 L1570 1075.26 L1574 1075.45 L1578 1075.63 L1582 1075.81 L1586 1075.99 L1590 1076.16 L1594 1076.32 L1598 1076.49 L1602 1076.65 L1606 1076.8 L1610 1076.95 L1614 1077.1 L1618 1077.24 L1622 1077.38 L1626 1077.52 L1630 1077.65 L1634 1077.78 L1638 1077.91 L1642 1078.03 L1646 1078.15 L1650 1078.26 L1654 1078.38 L1658 1078.49 L1662 1078.6 L1666 1078.7 L1670 1078.81 L1674 1078.91 L1678 1079 L1682 1079.1 L1686 1079.19 L1690 1079.28 L1694 1079.37 L1698 1079.46 L1702 1079.54 L1706 1079.62 L1710 1079.7 L1714 1079.78 L1718 1079.86 L1722 1079.93 L1726 1080 L1730 1080.07 L1734 1080.14 L1738 1080.21 L1742 1080.27 L1746 1080.34 L1750 1080.4 L1754 1080.46 L1758 1080.52 L1762 1080.58 L1766 1080.63 L1770 1080.69 L1774 1080.74 L1778 1080.79 L1782 1080.84 L1786 1080.89 L1790 1080.94 L1794 1080.98 L1798 1081.03 L1802 1081.07 L1806 1081.12 L1810 1081.16 L1814 1081.2 L1818 1081.24 L1822 1081.28 L1826 1081.32 L1830 1081.36 L1834 1081.39 L1838 1081.43 L1842 1081.46 L1846 1081.5 L1850 1081.53 L1854 1081.56 L1858 1081.59 L1862 1081.62 L1866 1081.65 L1870 1081.68 L1874 1081.71 L1878 1081.74 L1882 1081.76 L1886 1081.79 L1890 1081.81 L1894 1081.84 L1898 1081.86 L1902 1081.89 L1906 1081.91 L1910 1081.93 L1914 1081.95 L1918 1081.98 L1922 1082 L1926 1082.02 L1930 1082.04 L1934 1082.05 L1938 1082.07 L1942 1082.09 L1946 1082.11 L1950 1082.13 L1954 1082.14 L1958 1082.16 L1962 1082.18 L1966 1082.19 L1970 1082.21 L1974 1082.22 L1976 1082.23" fill="none" stroke="#000000" stroke-width="9.5" stroke-dasharray="26 5 13 6" stroke-dashoffset="30.95"/>
<rect x="1186" y="1078" width="8" height="9.8" fill="#000"/>
<polygon points="1192.2,1075.39 1193.3,1072.06 1195.15,1068.37 1204.02,1068 1204.02,1065.41 1205.87,1063.19 1209.56,1062.08 1214.74,1062.08 1220.87,1068.37 1217.69,1071.69 1212.52,1072.8 1211.04,1075.39 1209.56,1080.19 1206.61,1081.67 1201.43,1081.67 1199.96,1080.19 1194.04,1077.97" fill="#000000"/>
<polygon points="1217.92,1057.87 1219.91,1055.43 1228.04,1051 1229.89,1051.15 1235.06,1056.76 1231,1061.35 1225.08,1064.3 1223.61,1064.89" fill="#000000"/>
<polygon points="1234.1,1046.71 1239.87,1041.39 1253.91,1033.04 1256.13,1033.26 1260.04,1039.91 1250.95,1046.93 1242.82,1052.85 1237.65,1055.06 1235.06,1050.26" fill="#000000"/>
<polygon points="1260.04,1030.67 1262.78,1027.72 1265,1026.98 1272.02,1028.46 1272.02,1026.09 1282,1026.09 1283.1,1031.78 1284.21,1033.26 1288.28,1032.15 1290.86,1032.3 1294.93,1036.22 1290.13,1042.5 1285.69,1043.75 1279.78,1039.91 1277.56,1040.28 1275.34,1041.76 1270.91,1041.02 1268.32,1038.8 1263.89,1037.32" fill="#000000"/>
<polygon points="1296.04,1037.55 1299.73,1036.07 1301.95,1036.22 1307.12,1038.43 1311.56,1038.06 1318.21,1040.65 1323.02,1041.24 1321.91,1045.82 1320.8,1049.67 1314.52,1049.67 1311.56,1047.67 1303.43,1047.67 1301.21,1045.82 1297.15,1045.82" fill="#000000"/>
<path d="M212.4 990.9L248.2 1026.7M212.4 1026.7L248.2 990.9" fill="none" stroke="#000000" stroke-width="9.2"/>
<path d="M445 1042L480.8 1077.8M445 1077.8L480.8 1042" fill="none" stroke="#000000" stroke-width="9.2"/>
<path d="M677.6 1059.8L713.4 1095.6M677.6 1095.6L713.4 1059.8" fill="none" stroke="#000000" stroke-width="9.2"/>
<path d="M910.2 1063.9L946 1099.7M910.2 1099.7L946 1063.9" fill="none" stroke="#000000" stroke-width="9.2"/>
<path d="M1142.8 1064.8L1178.6 1100.6M1142.8 1100.6L1178.6 1064.8" fill="none" stroke="#000000" stroke-width="9.2"/>
<path d="M1375.4 1041.6L1411.2 1077.4M1375.4 1077.4L1411.2 1041.6" fill="none" stroke="#000000" stroke-width="9.2"/>
<path d="M1608 1059.8L1643.8 1095.6M1608 1095.6L1643.8 1059.8" fill="none" stroke="#000000" stroke-width="9.2"/>
<path d="M1840.6 1063.9L1876.4 1099.7M1840.6 1099.7L1876.4 1063.9" fill="none" stroke="#000000" stroke-width="9.2"/>
</g>
<path d="M1581 96H1826.3" fill="none" stroke="#ff0000" stroke-width="10" stroke-dasharray="26 5 13 6"/>
<circle cx="1706.3" cy="96.3" r="24.8" fill="none" stroke="#ff0000" stroke-width="9.5"/>
<path d="M1581 211.4H1826.3" fill="none" stroke="#0000ff" stroke-width="9" stroke-dasharray="26 5 13 6"/>
<path d="M1688.4 193.7L1724.2 229.5M1688.4 229.5L1724.2 193.7M1680.9 211.6L1731.7 211.6M1706.3 186.2L1706.3 237" fill="none" stroke="#0000ff" stroke-width="9.2"/>
<path d="M1581 327.5H1826.3" fill="none" stroke="#000000" stroke-width="9" stroke-dasharray="26 5 13 6"/>
<path d="M1688.4 309.5L1724.2 345.3M1688.4 345.3L1724.2 309.5" fill="none" stroke="#000000" stroke-width="9.2"/>
<g font-family="'Liberation Sans', Arial, Helvetica, sans-serif" fill="#000" stroke="#000" stroke-linejoin="round">
<text transform="translate(1849.6 107.65) scale(1 1.035)" font-size="66.4" stroke-width="0.5">T<tspan font-size="53.8" dx="4" dy="30.9" stroke-width="0.85">B1</tspan></text>
<text transform="translate(1849.6 223.25) scale(1 1.035)" font-size="66.4" stroke-width="0.5">T<tspan font-size="53.8" dx="4" dy="30.9" stroke-width="0.85">B2</tspan></text>
<text transform="translate(1849.6 338.85) scale(1 1.035)" font-size="66.4" stroke-width="0.5">T<tspan font-size="53.8" dx="4" dy="30.9" stroke-width="0.85">B3</tspan></text>
</g>
</svg>
</body></html>
